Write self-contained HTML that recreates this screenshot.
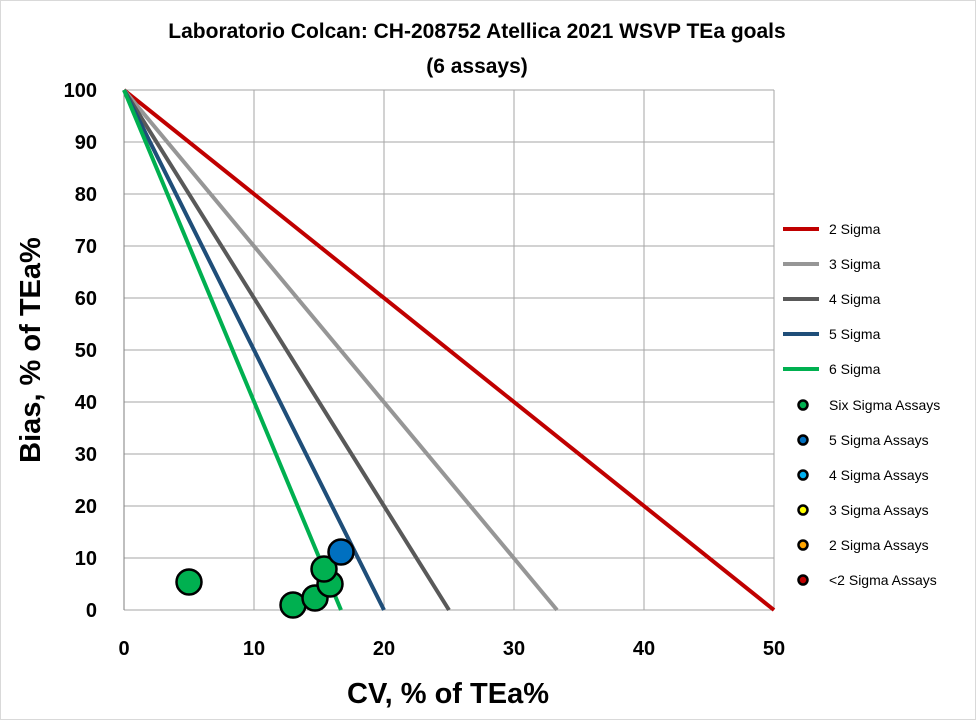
<!DOCTYPE html>
<html><head><meta charset="utf-8"><style>body{margin:0;background:#fff}svg{display:block}</style></head><body>
<svg width="976" height="720" viewBox="0 0 976 720" xmlns="http://www.w3.org/2000/svg" font-family="Liberation Sans, Arial, sans-serif">
<rect x="0.5" y="0.5" width="975" height="719" fill="#fff" stroke="#d9d9d9"/>
<g fill="#000" font-weight="bold" text-anchor="middle" font-size="21">
<text x="477" y="38">Laboratorio Colcan: CH-208752 Atellica 2021 WSVP TEa goals</text>
<text x="477" y="73">(6 assays)</text>
</g>
<g stroke="#a6a6a6" stroke-width="1">
<line x1="254" y1="90" x2="254" y2="610"/><line x1="384" y1="90" x2="384" y2="610"/><line x1="514" y1="90" x2="514" y2="610"/><line x1="644" y1="90" x2="644" y2="610"/><line x1="774" y1="90" x2="774" y2="610"/>
<line x1="124" y1="90" x2="774" y2="90"/><line x1="124" y1="142" x2="774" y2="142"/><line x1="124" y1="194" x2="774" y2="194"/><line x1="124" y1="246" x2="774" y2="246"/><line x1="124" y1="298" x2="774" y2="298"/><line x1="124" y1="350" x2="774" y2="350"/><line x1="124" y1="402" x2="774" y2="402"/><line x1="124" y1="454" x2="774" y2="454"/><line x1="124" y1="506" x2="774" y2="506"/><line x1="124" y1="558" x2="774" y2="558"/><line x1="124" y1="610" x2="774" y2="610"/>
</g>
<line x1="124" y1="90" x2="124" y2="610" stroke="#7f7f7f"/>
<g font-size="20" font-weight="bold" text-anchor="end" fill="#000">
<text x="97" y="97">100</text><text x="97" y="149">90</text><text x="97" y="201">80</text><text x="97" y="253">70</text><text x="97" y="305">60</text><text x="97" y="357">50</text><text x="97" y="409">40</text><text x="97" y="461">30</text><text x="97" y="513">20</text><text x="97" y="565">10</text><text x="97" y="617">0</text>
</g>
<g font-size="20" font-weight="bold" text-anchor="middle" fill="#000">
<text x="124" y="655">0</text><text x="254" y="655">10</text><text x="384" y="655">20</text><text x="514" y="655">30</text><text x="644" y="655">40</text><text x="774" y="655">50</text>
</g>
<text x="448" y="703" font-size="29" font-weight="bold" text-anchor="middle">CV, % of TEa%</text>
<text transform="translate(40,350) rotate(-90)" font-size="29" font-weight="bold" text-anchor="middle">Bias, % of TEa%</text>
<g stroke-width="4" fill="none">
<line x1="124" y1="90" x2="774" y2="610" stroke="#c00000"/>
<line x1="124" y1="90" x2="557" y2="610" stroke="#969696"/>
<line x1="124" y1="90" x2="449" y2="610" stroke="#595959"/>
<line x1="124" y1="90" x2="384" y2="610" stroke="#1f4e79"/>
<line x1="124" y1="90" x2="341" y2="610" stroke="#00b050"/>
</g>
<g stroke="#000" stroke-width="2.5">
<circle cx="189" cy="582" r="12.5" fill="#00b050"/>
<circle cx="293" cy="605" r="12.5" fill="#00b050"/>
<circle cx="315" cy="598" r="12.5" fill="#00b050"/>
<circle cx="330" cy="584" r="12.5" fill="#00b050"/>
<circle cx="324" cy="569" r="12.5" fill="#00b050"/>
<circle cx="341" cy="552" r="12.5" fill="#0070c0"/>
</g>
<g stroke-width="4">
<line x1="783" y1="229" x2="819" y2="229" stroke="#c00000"/>
<line x1="783" y1="264" x2="819" y2="264" stroke="#969696"/>
<line x1="783" y1="299" x2="819" y2="299" stroke="#595959"/>
<line x1="783" y1="334" x2="819" y2="334" stroke="#1f4e79"/>
<line x1="783" y1="369" x2="819" y2="369" stroke="#00b050"/>
</g>
<g stroke="#000" stroke-width="2.5">
<circle cx="803" cy="405" r="4.5" fill="#00b050"/>
<circle cx="803" cy="440" r="4.5" fill="#0070c0"/>
<circle cx="803" cy="475" r="4.5" fill="#00b0f0"/>
<circle cx="803" cy="510" r="4.5" fill="#ffff00"/>
<circle cx="803" cy="545" r="4.5" fill="#ffa500"/>
<circle cx="803" cy="580" r="4.5" fill="#c00000"/>
</g>
<g font-size="14" fill="#000">
<text x="829" y="234">2 Sigma</text><text x="829" y="269">3 Sigma</text><text x="829" y="304">4 Sigma</text><text x="829" y="339">5 Sigma</text><text x="829" y="374">6 Sigma</text>
<text x="829" y="410">Six Sigma Assays</text><text x="829" y="445">5 Sigma Assays</text><text x="829" y="480">4 Sigma Assays</text><text x="829" y="515">3 Sigma Assays</text><text x="829" y="550">2 Sigma Assays</text><text x="829" y="585">&lt;2 Sigma Assays</text>
</g>
</svg>
</body></html>
